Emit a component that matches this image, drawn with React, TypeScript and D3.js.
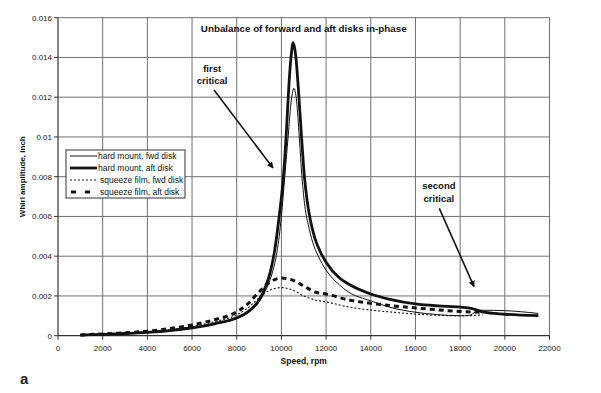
import React from 'react';
import * as d3 from 'd3';

// speed (rpm) / whirl amplitude (inch)
const hardFwdSpeed = [1000, 2000, 3000, 4000, 5000, 6000, 7000, 8000, 8500, 9000, 9300, 9600, 9800, 10000, 10150, 10300, 10450, 10560, 10680, 10800, 10920, 11050, 11200, 11400, 11650, 12000, 12600, 13000, 14000, 14860, 16000, 17000, 18000, 18400, 18700, 19000, 20000, 21500];
const hardFwdAmp = [0.00003, 0.00006, 0.0001, 0.00015, 0.00024, 0.00038, 0.00058, 0.00085, 0.00115, 0.0017, 0.0023, 0.0032, 0.0042, 0.006, 0.008, 0.01, 0.0119, 0.01245, 0.0118, 0.01, 0.008, 0.0065, 0.0056, 0.0047, 0.004, 0.0033, 0.00255, 0.0022, 0.00175, 0.00143, 0.00118, 0.00106, 0.001, 0.00102, 0.0012, 0.00128, 0.00126, 0.00112];

const hardAftSpeed = [1000, 2000, 3000, 4000, 5000, 6000, 7000, 8000, 8500, 9000, 9300, 9500, 9700, 9900, 10090, 10210, 10330, 10430, 10530, 10640, 10760, 10900, 11030, 11150, 11300, 11500, 11750, 12000, 12600, 13000, 14000, 14860, 16000, 17000, 18000, 18500, 18800, 19000, 20000, 21500];
const hardAftAmp = [0.00003, 0.00007, 0.00011, 0.00017, 0.00026, 0.0004, 0.0006, 0.0009, 0.0012, 0.0018, 0.0025, 0.0032, 0.0043, 0.006, 0.008, 0.01, 0.0125, 0.014, 0.01475, 0.0141, 0.0124, 0.01, 0.008, 0.0068, 0.0058, 0.0049, 0.0042, 0.0037, 0.0029, 0.0026, 0.0021, 0.00183, 0.0016, 0.0015, 0.00144, 0.00138, 0.00128, 0.0012, 0.00108, 0.00101];

const sqzFwdSpeed = [1000, 2000, 3000, 4000, 5000, 6000, 7000, 8000, 8500, 9000, 9500, 10000, 10500, 11000, 11500, 12000, 13000, 14000, 15000, 16000, 17000, 18000, 19000];
const sqzFwdAmp = [0.00003, 0.00007, 0.00012, 0.00019, 0.0003, 0.00046, 0.0007, 0.00105, 0.0014, 0.0019, 0.0023, 0.00242, 0.0023, 0.002, 0.0018, 0.0017, 0.00145, 0.00129, 0.00118, 0.00109, 0.00103, 0.001, 0.00105];

const sqzAftSpeed = [1000, 2000, 3000, 4000, 5000, 6000, 7000, 8000, 8500, 9000, 9500, 10000, 10500, 11000, 11500, 12000, 13000, 14000, 15000, 16000, 17000, 18000, 19000];
const sqzAftAmp = [0.00004, 0.00009, 0.00015, 0.00023, 0.00036, 0.00054, 0.0008, 0.0012, 0.0016, 0.0022, 0.0027, 0.0029, 0.0028, 0.0025, 0.0022, 0.0021, 0.0018, 0.00163, 0.0015, 0.0014, 0.0013, 0.00122, 0.00118];

const xTicks = [0, 2000, 4000, 6000, 8000, 10000, 12000, 14000, 16000, 18000, 20000, 22000];
const yTicks = [0, 0.002, 0.004, 0.006, 0.008, 0.01, 0.012, 0.014, 0.016];

const seriesNames = ['hard mount, fwd disk', 'hard mount, aft disk', 'squeeze film, fwd disk', 'squeeze film, aft disk'];

const W = 601;
const H = 393;
const FONT = '"Liberation Sans", Arial, sans-serif';

export default function App() {
  const x = d3.scaleLinear().domain([0, 22000]).range([58, 549.5]);
  const y = d3.scaleLinear().domain([0, 0.016]).range([335.7, 17.7]);

  const line = d3.line<[number, number]>()
    .x(d => x(d[0]))
    .y(d => y(d[1]))
    .curve(d3.curveMonotoneX);

  const zip = (s: number[], a: number[]) => s.map((v, i) => [v, a[i]] as [number, number]);

  // stroke styles per series
  const styles = [
    { w: 1, dash: null },
    { w: 2.8, dash: null },
    { w: 1.1, dash: '2,2' },
    { w: 3, dash: '5,4' },
  ];
  const paths = [
    zip(hardFwdSpeed, hardFwdAmp),
    zip(hardAftSpeed, hardAftAmp),
    zip(sqzFwdSpeed, sqzFwdAmp),
    zip(sqzAftSpeed, sqzAftAmp),
  ];

  const fmtY = (d: number) => String(+d.toFixed(3));

  return (
    <div style={{ position: 'fixed', left: 0, top: 0, width: W, height: H, background: 'white' }}>
      <svg width={W} height={H} style={{ display: 'block', fontFamily: FONT }}>
        <defs>
          <marker id="arr" viewBox="0 0 10 10" refX="9" refY="5" markerWidth="4" markerHeight="4" orient="auto">
            <path d="M0,0 L10,5 L0,10 z" fill="#111" />
          </marker>
        </defs>
        <rect width={W} height={H} fill="white" />

        {/* grid */}
        {xTicks.slice(1).map(t => (
          <line key={'gx' + t} x1={x(t)} x2={x(t)} y1={y(0.016)} y2={y(0)} stroke="#707070" strokeWidth={1} />
        ))}
        {yTicks.slice(1).map(t => (
          <line key={'gy' + t} x1={x(0)} x2={x(22000)} y1={y(t)} y2={y(t)} stroke="#707070" strokeWidth={1} />
        ))}

        {/* axes */}
        <line x1={x(0)} x2={x(0)} y1={y(0.016)} y2={y(0)} stroke="#333" strokeWidth={1.2} />
        <line x1={x(0)} x2={x(22000)} y1={y(0)} y2={y(0)} stroke="#333" strokeWidth={1.2} />
        {yTicks.map(t => (
          <g key={'ty' + t}>
            <line x1={x(0) - 4} x2={x(0)} y1={y(t)} y2={y(t)} stroke="#333" />
            <text x={x(0) - 6} y={y(t)} dy="0.35em" textAnchor="end" fontSize={8} fill="#222">{fmtY(t)}</text>
          </g>
        ))}
        {xTicks.map(t => (
          <g key={'tx' + t}>
            <line x1={x(t)} x2={x(t)} y1={y(0)} y2={y(0) + 4} stroke="#333" />
            <text x={x(t)} y={y(0) + 15} textAnchor="middle" fontSize={8} fill="#222">{t}</text>
          </g>
        ))}

        {/* series */}
        {paths.map((p, i) => (
          <path key={'s' + i} d={line(p) || ''} fill="none" stroke="#111"
            strokeWidth={styles[i].w} strokeDasharray={styles[i].dash || undefined} />
        ))}

        {/* title */}
        <text x={x(11000)} y={32} textAnchor="middle" fontSize={9.8} fontWeight="bold" fill="#111">
          Unbalance of forward and aft disks in-phase
        </text>

        {/* annotations */}
        <text x={x(6900)} y={y(0.01328)} textAnchor="middle" fontSize={9.5} fontWeight="bold" fill="#111">first</text>
        <text x={x(6900)} y={y(0.01264)} textAnchor="middle" fontSize={9.5} fontWeight="bold" fill="#111">critical</text>
        <line x1={x(6983)} y1={y(0.01236)} x2={x(9624)} y2={y(0.00844)} stroke="#111" strokeWidth={1.6} markerEnd="url(#arr)" />

        <text x={x(17050)} y={y(0.00739)} textAnchor="middle" fontSize={9.5} fontWeight="bold" fill="#111">second</text>
        <text x={x(17050)} y={y(0.00673)} textAnchor="middle" fontSize={9.5} fontWeight="bold" fill="#111">critical</text>
        <line x1={x(17068)} y1={y(0.00641)} x2={x(18621)} y2={y(0.00247)} stroke="#111" strokeWidth={1.6} markerEnd="url(#arr)" />

        {/* legend */}
        <g>
          <rect x={66} y={150} width={119} height={48} fill="white" stroke="#333" strokeWidth={1} />
          {seriesNames.map((n, i) => {
            const ly = 156 + i * 12;
            return (
              <g key={'lg' + i}>
                <line x1={i === 3 ? 71 : 70} x2={97} y1={ly} y2={ly} stroke="#111"
                  strokeWidth={styles[i].w} strokeDasharray={i === 3 ? '5,9' : (styles[i].dash || undefined)} />
                <text x={i < 2 ? 98 : 100} y={ly} dy="0.35em" fontSize={8.5} fill="#111">{n}</text>
              </g>
            );
          })}
        </g>

        {/* axis titles */}
        <text x={x(11000)} y={364} textAnchor="middle" fontSize={8.5} fontWeight="bold" fill="#111">Speed, rpm</text>
        <text transform={`translate(25,${(y(0) + y(0.016)) / 2}) rotate(-90)`} textAnchor="middle" fontSize={8} fontWeight="bold" fill="#111">
          Whirl amplitude, inch
        </text>

        <text x={20} y={384} fontSize={15} fontWeight="bold" fill="#222">a</text>
      </svg>
    </div>
  );
}
